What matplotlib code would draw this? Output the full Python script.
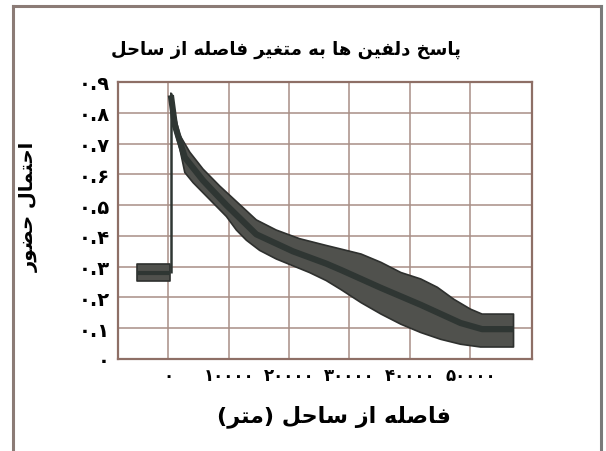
import matplotlib
matplotlib.use("Agg")
import matplotlib.pyplot as plt
from matplotlib.lines import Line2D

# ---------------- data ----------------
title_text = "پاسخ دلفین ها به متغیر فاصله از ساحل"
xlabel_text = "فاصله از ساحل (متر)"
ylabel_text = "احتمال حضور"

x_ticks = [0, 10000, 20000, 30000, 40000, 50000]
x_ticklabels = ["۰", "۱۰۰۰۰", "۲۰۰۰۰", "۳۰۰۰۰", "۴۰۰۰۰", "۵۰۰۰۰"]
y_ticks = [0, 0.1, 0.2, 0.3, 0.4, 0.5, 0.6, 0.7, 0.8, 0.9]
y_ticklabels = ["۰", "۰.۱", "۰.۲", "۰.۳", "۰.۴", "۰.۵", "۰.۶", "۰.۷", "۰.۸", "۰.۹"]

# land side (negative distance) constant block
left_x = [-5200, 300]
left_lower = [0.254, 0.254]
left_upper = [0.308, 0.308]
left_mean = [0.281, 0.281]
spike_x = 400

# sea side response band: upper edge
upper_x = [450, 726, 1105, 1930, 3580, 5775, 8530, 11286, 14586, 17886, 21730,
           26136, 28635, 31925, 35215, 38505, 41795, 44540, 47273, 50020, 51943, 57143]
upper_y = [0.864, 0.85, 0.793, 0.727, 0.672, 0.617, 0.562, 0.512, 0.452, 0.419, 0.391,
           0.369, 0.357, 0.341, 0.314, 0.281, 0.260, 0.233, 0.194, 0.162, 0.146, 0.146]
# lower edge
lower_x = [450, 830, 1930, 2755, 4125, 6880, 9636, 11286, 12936, 15130, 17886, 20625,
           23380, 26136, 28635, 31925, 35215, 38505, 41795, 45085, 48375, 51669, 57143]
lower_y = [0.85, 0.760, 0.683, 0.606, 0.573, 0.518, 0.463, 0.419, 0.386, 0.353, 0.325, 0.303,
           0.281, 0.255, 0.225, 0.183, 0.146, 0.113, 0.086, 0.064, 0.048, 0.039, 0.039]
# mean response
mean_x = [450, 1105, 2755, 5775, 9636, 14586, 20625, 26136, 28635, 35215, 41795,
          48375, 51943, 57143]
mean_y = [0.857, 0.76, 0.655, 0.58, 0.50, 0.405, 0.35, 0.31, 0.289, 0.231, 0.176,
          0.117, 0.097, 0.097]

# ---------------- simple Persian shaping ----------------
FORMS = {
    'ا': ('\uFE8D', '\uFE8E', None, None),
    'ب': ('\uFE8F', '\uFE90', '\uFE91', '\uFE92'),
    'پ': ('\uFB56', '\uFB57', '\uFB58', '\uFB59'),
    'ت': ('\uFE95', '\uFE96', '\uFE97', '\uFE98'),
    'ح': ('\uFEA1', '\uFEA2', '\uFEA3', '\uFEA4'),
    'خ': ('\uFEA5', '\uFEA6', '\uFEA7', '\uFEA8'),
    'د': ('\uFEA9', '\uFEAA', None, None),
    'ر': ('\uFEAD', '\uFEAE', None, None),
    'ز': ('\uFEAF', '\uFEB0', None, None),
    'س': ('\uFEB1', '\uFEB2', '\uFEB3', '\uFEB4'),
    'ص': ('\uFEB9', '\uFEBA', '\uFEBB', '\uFEBC'),
    'ض': ('\uFEBD', '\uFEBE', '\uFEBF', '\uFEC0'),
    'غ': ('\uFECD', '\uFECE', '\uFECF', '\uFED0'),
    'ف': ('\uFED1', '\uFED2', '\uFED3', '\uFED4'),
    'ل': ('\uFEDD', '\uFEDE', '\uFEDF', '\uFEE0'),
    'م': ('\uFEE1', '\uFEE2', '\uFEE3', '\uFEE4'),
    'ن': ('\uFEE5', '\uFEE6', '\uFEE7', '\uFEE8'),
    'ه': ('\uFEE9', '\uFEEA', '\uFEEB', '\uFEEC'),
    'و': ('\uFEED', '\uFEEE', None, None),
    'ی': ('\uFBFC', '\uFBFD', '\uFBFE', '\uFBFF'),
}
MIRROR = {'(': ')', ')': '('}


def shape(text):
    out = []
    n = len(text)
    for i, ch in enumerate(text):
        if ch not in FORMS:
            out.append(MIRROR.get(ch, ch))
            continue
        f = FORMS[ch]
        prev = text[i - 1] if i > 0 else None
        nxt = text[i + 1] if i < n - 1 else None
        join_prev = prev in FORMS and FORMS[prev][2] is not None
        join_next = nxt in FORMS and f[2] is not None
        if join_prev and join_next:
            out.append(f[3])
        elif join_prev:
            out.append(f[1])
        elif join_next:
            out.append(f[2])
        else:
            out.append(f[0])
    return ''.join(reversed(out))


plt.rcParams['font.family'] = ['DejaVu Sans']

fig = plt.figure(figsize=(6.06, 4.52), dpi=100)
ax = fig.add_axes([118 / 606, 1 - 360 / 452, 414 / 606, 277 / 452])

band_fill = '#50514d'
band_edge = '#2e302e'
mid_col = '#2f3633'
grid_col = '#a88e86'

ax.fill_between(left_x, left_lower, left_upper, facecolor=band_fill,
                edgecolor=band_edge, linewidth=1.2, zorder=3)
ax.plot(left_x, left_mean, color=mid_col, lw=3, zorder=4, solid_capstyle='butt')
ax.vlines(spike_x, left_mean[-1], upper_y[0], color=mid_col, lw=1.8, zorder=4)
ax.fill(upper_x + lower_x[::-1], upper_y + lower_y[::-1], facecolor=band_fill,
        edgecolor=band_edge, linewidth=1.2, joinstyle='round', zorder=3)
ax.plot(mean_x, mean_y, color=mid_col, lw=4.5, zorder=4, solid_capstyle='butt',
        solid_joinstyle='round')

ax.set_xlim(-8300, 60200)
ax.set_ylim(0, 0.9)
ax.set_xticks(x_ticks)
ax.set_xticklabels(x_ticklabels, fontsize=12, fontweight='bold')
ax.set_yticks(y_ticks)
ax.set_yticklabels(y_ticklabels, fontsize=14, fontweight='bold')
ax.tick_params(axis='x', length=0, pad=5)
ax.tick_params(axis='y', length=0, pad=6)
ax.grid(True, color=grid_col, lw=1.1, zorder=1)
for s in ax.spines.values():
    s.set_color('#8e6f66')
    s.set_linewidth(1.6)

ax.set_xlabel(shape(xlabel_text), fontsize=16, fontweight='bold')
ax.xaxis.set_label_coords((334 - 118) / 414, (360 - 417) / 277)
ax.xaxis.label.set_va('center')
ax.set_ylabel(shape(ylabel_text), fontsize=14, fontweight='bold')
ax.yaxis.set_label_coords((29 - 118) / 414, (360 - 207) / 277)
ax.yaxis.label.set_va('center')
fig.text(286 / 606, 1 - 50 / 452, shape(title_text), fontsize=13, fontweight='bold',
         ha='center', va='center')

# outer frame
fig.add_artist(Line2D([13 / 606, 13 / 606], [0, 1 - 7 / 452], transform=fig.transFigure,
                      color='#8b7b76', lw=2.2))
fig.add_artist(Line2D([13 / 606, 601 / 606], [1 - 7 / 452, 1 - 7 / 452],
                      transform=fig.transFigure, color='#8b7b76', lw=2.2))
fig.add_artist(Line2D([601 / 606, 601 / 606], [0, 1 - 7 / 452], transform=fig.transFigure,
                      color='#7a7a7a', lw=2.2))

fig.savefig('out.png', dpi=100)
